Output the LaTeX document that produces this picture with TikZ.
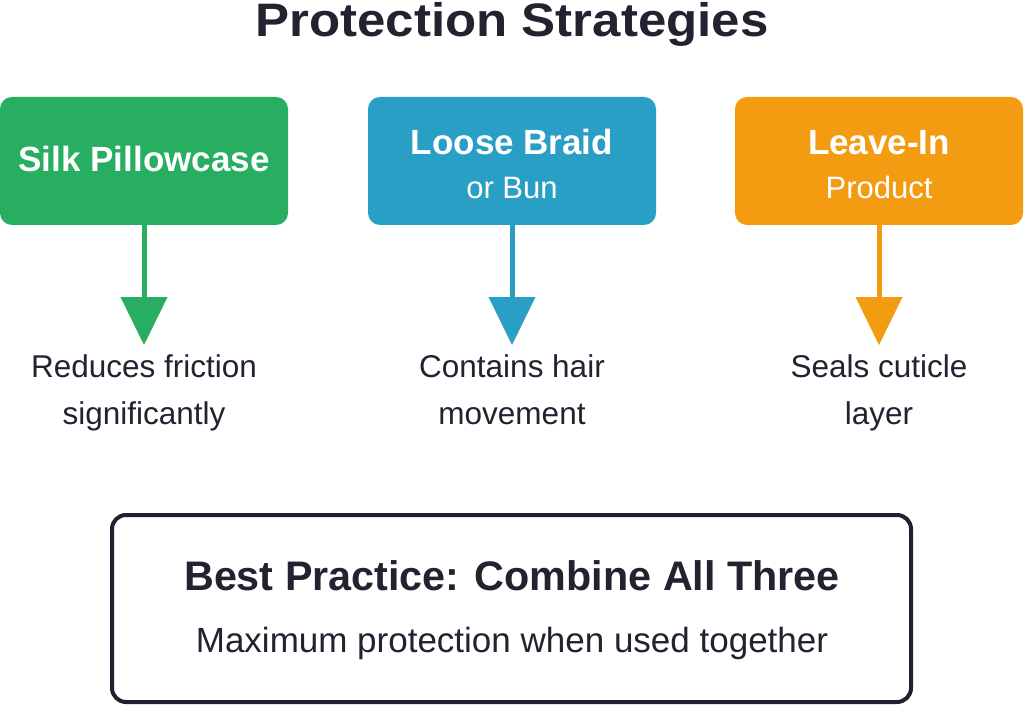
\documentclass[tikz,border=0pt]{standalone}
\usepackage{fontspec}
\usepackage{graphicx}
\setmainfont{Liberation Sans}
\usetikzlibrary{arrows.meta}
\definecolor{cgreen}{HTML}{27AE60}
\definecolor{cblue}{HTML}{2A9FC6}
\definecolor{corange}{HTML}{F39C12}
\definecolor{cdark}{HTML}{1F2130}
\definecolor{ctext}{HTML}{222230}
\begin{document}
\begin{tikzpicture}[x=1pt,y=-1pt,
  cardbox/.style={rounded corners=12pt, minimum width=288pt, minimum height=128pt, inner sep=0pt, outer sep=0pt},
  arr/.style={line width=5pt, -{Triangle[width=47pt,length=48pt,line width=0pt]}},
  cardtitle/.style={anchor=base, text=white, inner sep=0pt, font=\fontsize{35}{42}\selectfont\bfseries},
  cardsub/.style={anchor=base, text=white, inner sep=0pt, font=\fontsize{31}{38}\selectfont},
  desc/.style={anchor=base, text=ctext, inner sep=0pt, align=center, font=\fontsize{31.5}{47}\selectfont}
]
\useasboundingbox (0,0) rectangle (1024,708);
\fill[white] (0,0) rectangle (1024,708);

\node[anchor=base, inner sep=0pt, text=ctext, font=\fontsize{47}{56}\selectfont\bfseries] (title) at (512,37) {\scalebox{1.085}[1]{Protection Strategies}};

\node[cardbox, fill=cgreen] (g) at (144,161) {};
\node[cardbox, fill=cblue] (b) at (512,161) {};
\node[cardbox, fill=corange] (o) at (879,161) {};

\node[cardtitle] (gt) at (144,172) {Silk Pillowcase};
\node[cardtitle] (bt) at (512,155) {Loose Braid};
\node[cardsub] (bs) at (512,199) {or Bun};
\node[cardtitle] (ot) at (879,155) {Leave-In};
\node[cardsub] (os) at (879,199) {Product};

\coordinate (ga) at (144,345);
\coordinate (ba) at (512,345);
\coordinate (oa) at (879,345);
\draw[arr, cgreen] (g.south) -- (ga);
\draw[arr, cblue] (b.south) -- (ba);
\draw[arr, corange] (o.south) -- (oa);

\node[desc] (gd) at (144,424) {Reduces friction\\significantly};
\node[desc] (bd) at (512,424) {Contains hair\\movement};
\node[desc] (od) at (879,424) {Seals cuticle\\layer};

\node[draw=cdark, line width=4pt, rounded corners=14pt, minimum width=799pt, minimum height=187pt, inner sep=0pt] (bp) at (511.5,608.5) {};
\node[anchor=base, inner sep=0pt, text=ctext, font=\fontsize{41.3}{50}\selectfont\bfseries] (bpt) at (512,590) {Best Practice: Combine All Three};
\node[anchor=base, inner sep=0pt, text=ctext, font=\fontsize{35}{42}\selectfont] (bps) at (512,652) {Maximum protection when used together};
\end{tikzpicture}
\end{document}
